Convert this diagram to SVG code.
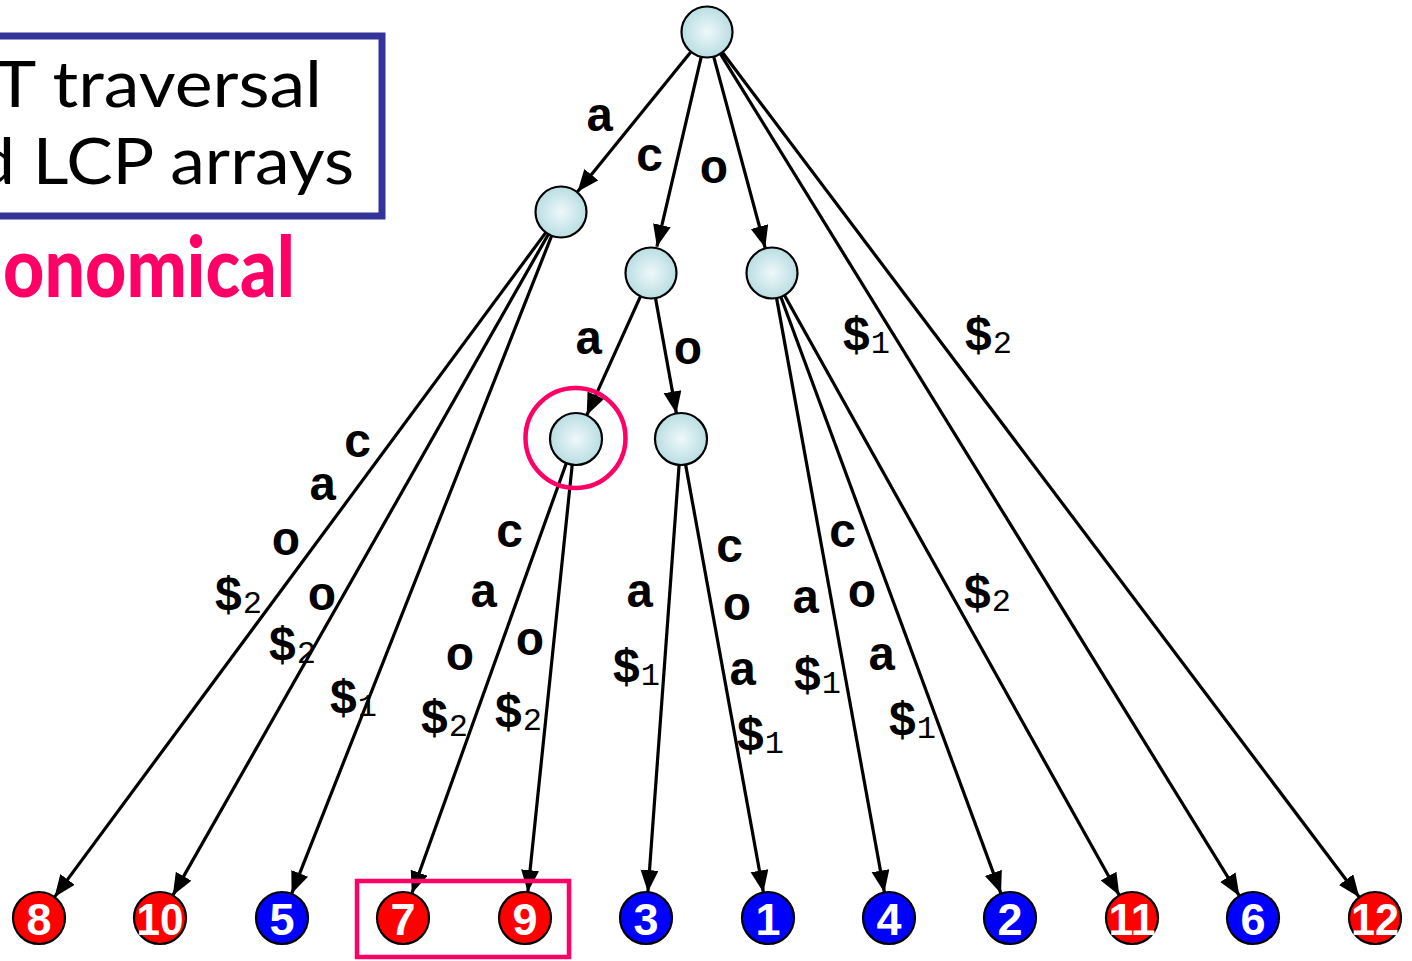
<svg xmlns="http://www.w3.org/2000/svg" width="1412" height="961" viewBox="0 0 1412 961">
  <defs>
    <radialGradient id="ball" cx="50%" cy="50%" r="55%">
      <stop offset="0" stop-color="#EEF8FA"/>
      <stop offset="1" stop-color="#B4DBE0"/>
    </radialGradient>
    <marker id="arr" markerUnits="userSpaceOnUse" markerWidth="24" markerHeight="20" refX="22" refY="9" orient="auto">
      <path d="M0,0 L22,9 L0,18 z" fill="#000"/>
    </marker>
  </defs>
  <style>
    .edge { stroke: #000; stroke-width: 3.2; fill: none; marker-end: url(#arr); }
    .inner { fill: url(#ball); stroke: #000; stroke-width: 2.2; }
    .leaf { stroke: #000; stroke-width: 2.2; }
    .red { fill: #FF0000; }
    .blue { fill: #0000FF; }
    .num { font-family: "Liberation Sans", Arial, sans-serif; font-weight: bold; font-size: 45px; fill: #fff; text-anchor: middle; }
    .lbl { font-family: "Liberation Mono", "Courier New", monospace; font-weight: bold; font-size: 48px; fill: #000; }
    .ch { text-anchor: middle; }
    .sub { font-weight: normal; font-size: 32px; }
    .title { font-family: Lato, "DejaVu Sans", sans-serif; font-size: 64px; fill: #000; }
    .pink { fill: none; stroke: #FF0066; stroke-width: 4.5; }
  </style>

  <rect width="1412" height="961" fill="#fff"/>

  <!-- caption box, partly cut off on the left -->
  <g id="caption">
    <rect x="-10" y="36" width="392" height="180" fill="#fff" stroke="#333399" stroke-width="7"/>
    <text class="title" x="-6" y="107" textLength="328" lengthAdjust="spacingAndGlyphs">T traversal</text>
    <text class="title" x="-24" y="184" textLength="378" lengthAdjust="spacingAndGlyphs">d LCP arrays</text>
    <text x="3" y="297" font-family="Lato, 'DejaVu Sans', sans-serif" font-weight="900" font-size="84" fill="#FF0066" textLength="292" lengthAdjust="spacingAndGlyphs">onomical</text>
  </g>

  <!-- tree edges -->
  <g id="edges">
    <line class="edge" x1="690.6" y1="52.2" x2="577.5" y2="191.8"/>
    <line class="edge" x1="701.1" y1="57.3" x2="656.9" y2="246.7"/>
    <line class="edge" x1="713.8" y1="57.1" x2="765.2" y2="247.9"/>
    <line class="edge" x1="720.6" y1="54.1" x2="1239.4" y2="895.9"/>
    <line class="edge" x1="722.7" y1="52.8" x2="1359.3" y2="897.2"/>

    <line class="edge" x1="546.1" y1="232.1" x2="54.5" y2="897.1"/>
    <line class="edge" x1="548.7" y1="233.7" x2="172.8" y2="895.4"/>
    <line class="edge" x1="551.8" y1="235.3" x2="291.6" y2="893.8"/>

    <line class="edge" x1="640.7" y1="295.8" x2="586.7" y2="415.3"/>
    <line class="edge" x1="655.4" y1="297.6" x2="676.4" y2="413.4"/>

    <line class="edge" x1="566.2" y1="463.5" x2="411.8" y2="893.5"/>
    <line class="edge" x1="572.2" y1="464.9" x2="527.8" y2="892.1"/>

    <line class="edge" x1="679.1" y1="464.9" x2="647.9" y2="892.1"/>
    <line class="edge" x1="685.6" y1="464.6" x2="763.4" y2="892.4"/>

    <line class="edge" x1="776.5" y1="297.6" x2="884.4" y2="892.4"/>
    <line class="edge" x1="780.7" y1="296.5" x2="1001" y2="893.6"/>
    <line class="edge" x1="784.2" y1="294.8" x2="1119.3" y2="895.3"/>
  </g>

  <!-- edge labels -->
  <g id="labels" class="lbl">
    <text class="ch" x="600" y="131">a</text>
    <text class="ch" x="650" y="171">c</text>
    <text class="ch" x="714" y="183">o</text>
    <text x="842" y="350">$<tspan class="sub" dy="3">1</tspan></text>
    <text x="964" y="350">$<tspan class="sub" dy="3">2</tspan></text>

    <text class="ch" x="358" y="457">c</text>
    <text class="ch" x="323" y="500">a</text>
    <text class="ch" x="286" y="555">o</text>
    <text x="214" y="610">$<tspan class="sub" dy="3">2</tspan></text>

    <text class="ch" x="322" y="610">o</text>
    <text x="268" y="660">$<tspan class="sub" dy="3">2</tspan></text>

    <text x="329" y="713">$<tspan class="sub" dy="3">1</tspan></text>

    <text class="ch" x="589" y="354">a</text>
    <text class="ch" x="688" y="364">o</text>

    <text class="ch" x="510" y="547">c</text>
    <text class="ch" x="484" y="607">a</text>
    <text class="ch" x="460" y="670">o</text>
    <text x="420" y="733">$<tspan class="sub" dy="3">2</tspan></text>

    <text class="ch" x="530" y="655">o</text>
    <text x="494" y="727">$<tspan class="sub" dy="3">2</tspan></text>

    <text class="ch" x="640" y="607">a</text>
    <text x="612" y="682">$<tspan class="sub" dy="3">1</tspan></text>

    <text class="ch" x="730" y="562">c</text>
    <text class="ch" x="737" y="620">o</text>
    <text class="ch" x="743" y="685">a</text>
    <text x="736" y="750">$<tspan class="sub" dy="3">1</tspan></text>

    <text class="ch" x="806" y="613">a</text>
    <text x="793" y="690">$<tspan class="sub" dy="3">1</tspan></text>

    <text class="ch" x="843" y="547">c</text>
    <text class="ch" x="862" y="607">o</text>
    <text class="ch" x="882" y="670">a</text>
    <text x="888" y="735">$<tspan class="sub" dy="3">1</tspan></text>

    <text x="963" y="608">$<tspan class="sub" dy="3">2</tspan></text>
  </g>

  <!-- internal nodes -->
  <g id="root"><circle class="inner" cx="707" cy="32" r="25.5"/></g>
  <g id="node-a"><circle class="inner" cx="561" cy="212" r="25.5"/></g>
  <g id="node-c"><circle class="inner" cx="651" cy="273" r="25.5"/></g>
  <g id="node-o"><circle class="inner" cx="772" cy="273" r="25.5"/></g>
  <g id="node-ca">
    <circle class="inner" cx="576" cy="439" r="26"/>
    <circle class="pink" cx="575.5" cy="438" r="50"/>
  </g>
  <g id="node-co"><circle class="inner" cx="681" cy="439" r="26"/></g>

  <!-- leaves -->
  <g id="leaf-8"><circle class="leaf red" cx="39" cy="918" r="26"/><text class="num" x="39" y="935">8</text></g>
  <g id="leaf-10"><circle class="leaf red" cx="160" cy="918" r="26"/><text class="num" x="160" y="935" textLength="47" lengthAdjust="spacingAndGlyphs">10</text></g>
  <g id="leaf-5"><circle class="leaf blue" cx="282" cy="918" r="26"/><text class="num" x="282" y="935">5</text></g>
  <g id="leaf-7"><circle class="leaf red" cx="403" cy="918" r="26"/><text class="num" x="403" y="935">7</text></g>
  <g id="leaf-9"><circle class="leaf red" cx="525" cy="918" r="26"/><text class="num" x="525" y="935">9</text></g>
  <g id="leaf-3"><circle class="leaf blue" cx="646" cy="918" r="26"/><text class="num" x="646" y="935">3</text></g>
  <g id="leaf-1"><circle class="leaf blue" cx="768" cy="918" r="26"/><text class="num" x="768" y="935">1</text></g>
  <g id="leaf-4"><circle class="leaf blue" cx="889" cy="918" r="26"/><text class="num" x="889" y="935">4</text></g>
  <g id="leaf-2"><circle class="leaf blue" cx="1010" cy="918" r="26"/><text class="num" x="1010" y="935">2</text></g>
  <g id="leaf-11"><circle class="leaf red" cx="1132" cy="918" r="26"/><text class="num" x="1132" y="935" textLength="47" lengthAdjust="spacingAndGlyphs">11</text></g>
  <g id="leaf-6"><circle class="leaf blue" cx="1253" cy="918" r="26"/><text class="num" x="1253" y="935">6</text></g>
  <g id="leaf-12"><circle class="leaf red" cx="1375" cy="918" r="26"/><text class="num" x="1375" y="935" textLength="48" lengthAdjust="spacingAndGlyphs">12</text></g>

  <!-- highlight around leaves 7 and 9 -->
  <rect id="pair-box" class="pink" x="357" y="881" width="212" height="76"/>
</svg>
